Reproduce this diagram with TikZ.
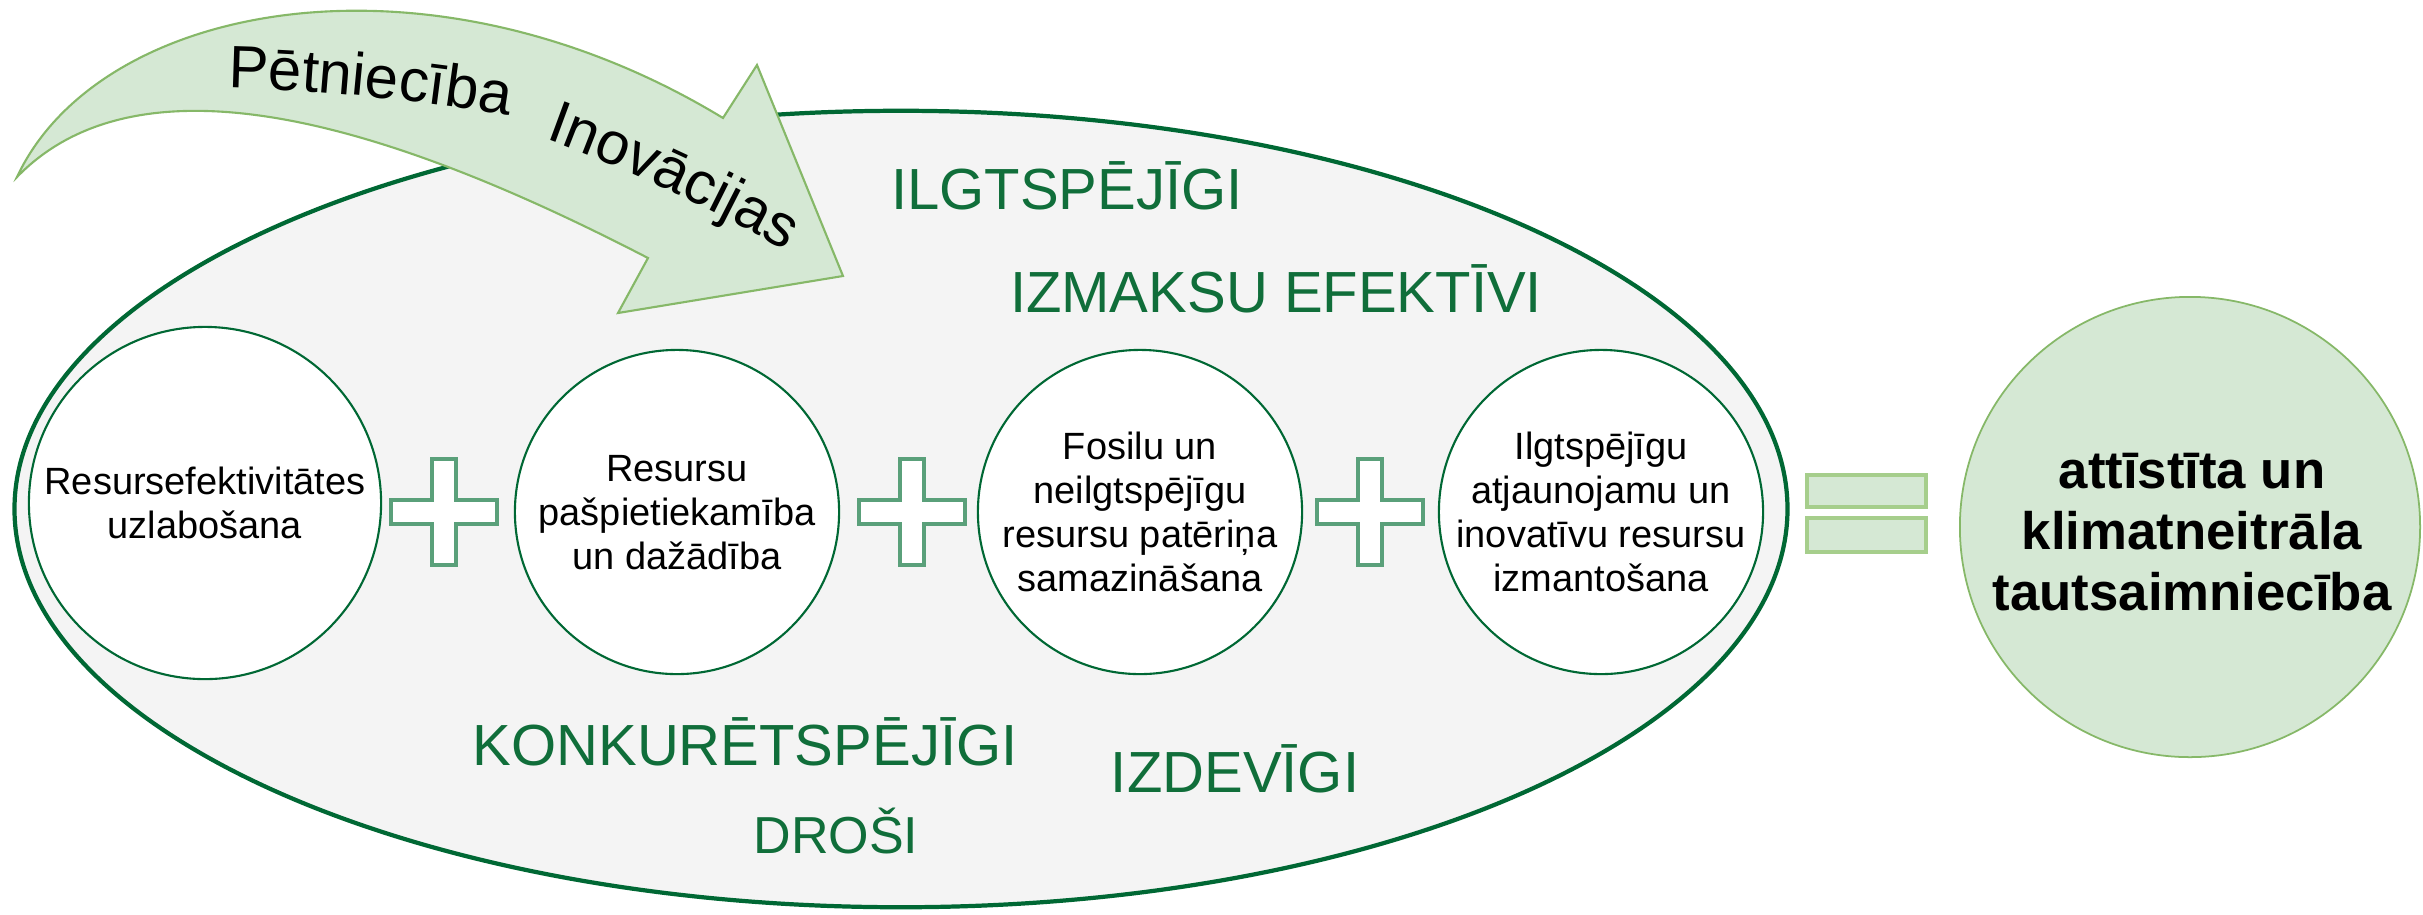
\documentclass[tikz,border=0pt]{standalone}
\usepackage{fontspec}
\setmainfont{Liberation Sans}
\usepackage{tikz}
\usetikzlibrary{shapes.geometric, decorations.text}

\definecolor{ovalgreen}{RGB}{0,104,52}
\definecolor{labelgreen}{RGB}{16,110,58}
\definecolor{palegreen}{RGB}{213,232,212}
\definecolor{arrowline}{RGB}{134,184,104}
\definecolor{eqline}{RGB}{166,206,140}
\definecolor{plusline}{RGB}{90,160,122}
\definecolor{ovalfill}{RGB}{244,244,244}

\newcommand\arrowfont{\fontsize{17}{20}\selectfont}

\begin{document}
\begin{tikzpicture}[x=0.01cm, y=-0.01cm,
    bigoval/.style={ellipse, draw=ovalgreen, line width=1.2pt, fill=ovalfill, inner sep=0pt},
    bubble/.style={circle, draw=ovalgreen, line width=0.6pt, fill=white, inner sep=0pt, minimum size=3.24cm},
    bubtext/.style={align=center, inner sep=0pt, font=\fontsize{10.8}{12.5}\selectfont},
    quality/.style={text=labelgreen, anchor=base, inner sep=0pt, font=\fontsize{16.5}{19}\selectfont},
    plussign/.style={draw=plusline, line width=1pt, fill=white, line join=miter},
    eqbar/.style={draw=eqline, line width=1pt, fill=palegreen},
    curvearrow/.style={draw=arrowline, line width=0.6pt, fill=palegreen, line join=miter},
    goal/.style={circle, draw=arrowline, line width=0.5pt, fill=palegreen, inner sep=0pt, minimum size=4.6cm},
    goaltext/.style={align=center, inner sep=0pt, font=\fontsize{15}{17.4}\selectfont\bfseries}
]
\fill[white] (0,0) rectangle (2423,914);
\useasboundingbox (0,0) rectangle (2423,914);

% big oval
\node[bigoval, minimum width=17.72cm, minimum height=7.96cm] (oval) at (901,509) {};

% curved arrow on top
\draw[curvearrow] (17,177) .. controls (100,0) and (430,-60) .. (723,118)
    -- (757,65) -- (843,276) -- (618,313) -- (648,258)
    .. controls (420,140) and (150,40) .. cycle;
\path[decorate, decoration={text along path, text align=left,
    text={|\arrowfont|Pētniecība}}] (228,88) .. controls (330,90) and (430,102) .. (540,120);
\path[decorate, decoration={text along path, text align=left,
    text={|\arrowfont|Inovācijas}}] (545,139) .. controls (620,166) and (725,214) .. (810,265);

% qualities
\node[quality] (ilgt) at (1067,209) {ILGTSPĒJĪGI};
\node[quality] (izmaksu) at (1276,312) {IZMAKSU EFEKTĪVI};
\node[quality] (konk) at (745,765) {KONKURĒTSPĒJĪGI};
\node[quality] (izdev) at (1235,792) {IZDEVĪGI};
\node[quality, font=\fontsize{14.8}{17}\selectfont] (drosi) at (836,853) {DROŠI};

% the four circles
\node[bubble, minimum size=3.52cm] (c1) at (205,503) {};
\node[bubble] (c2) at (677,512) {};
\node[bubble] (c3) at (1140,512) {};
\node[bubble] (c4) at (1601,512) {};
\node[bubtext] (t1) at (205,503) {Resursefektivitātes\\uzlabošana};
\node[bubtext] (t2) at (677,513) {Resursu\\pašpietiekamība\\un dažādība};
\node[bubtext] (t3) at (1140,512) {Fosilu un\\neilgtspējīgu\\resursu patēriņa\\samazināšana};
\node[bubtext] (t4) at (1601,512) {Ilgtspējīgu\\atjaunojamu un\\inovatīvu resursu\\izmantošana};

% plus signs
\foreach \px in {444,912,1370}
  \draw[plussign] (\px,512) ++(-53,-12) -- ++(41,0) -- ++(0,-41) -- ++(24,0) -- ++(0,41)
    -- ++(41,0) -- ++(0,24) -- ++(-41,0) -- ++(0,41) -- ++(-24,0) -- ++(0,-41)
    -- ++(-41,0) -- cycle;

% equals
\draw[eqbar] (1807,475) rectangle (1926,507);
\draw[eqbar] (1807,518) rectangle (1926,552);

% result
\node[goal] (goal) at (2190,527) {};
\node[goaltext] (gtext) at (2192,532) {attīstīta un\\klimatneitrāla\\tautsaimniecība};

\end{tikzpicture}
\end{document}
